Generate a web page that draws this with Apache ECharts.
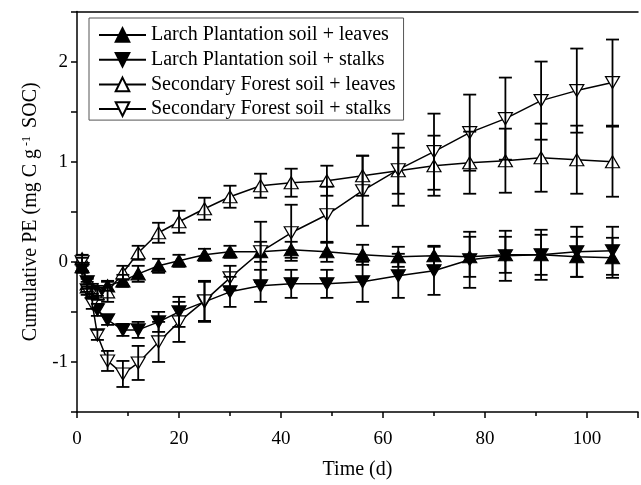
<!DOCTYPE html>
<html>
<head>
<meta charset="utf-8">
<script src="https://cdn.jsdelivr.net/npm/echarts@6/dist/echarts.min.js"></script>
<style>html,body{margin:0;padding:0;background:#fff;}#c{width:641px;height:485px;}</style>
</head>
<body>
<div id="c"></div>
<script>
const days = [1,2,3,4,6,9,12,16,20,25,30,36,42,49,56,63,70,77,84,91,98,105];
const seriesNames = ['Larch Plantation soil + leaves','Larch Plantation soil + stalks','Secondary Forest soil + leaves','Secondary Forest soil + stalks'];
const lpLeaves = [-0.05,-0.22,-0.27,-0.29,-0.24,-0.19,-0.12,-0.04,0.01,0.07,0.1,0.1,0.12,0.1,0.07,0.05,0.06,0.05,0.07,0.07,0.05,0.04];
const lpLeavesErr = [0.04,0.05,0.05,0.05,0.05,0.06,0.08,0.07,0.06,0.06,0.06,0.1,0.08,0.1,0.1,0.1,0.1,0.2,0.18,0.2,0.2,0.2];
const lpStalks = [-0.07,-0.2,-0.3,-0.48,-0.58,-0.68,-0.68,-0.6,-0.5,-0.4,-0.3,-0.24,-0.22,-0.22,-0.2,-0.14,-0.09,0.02,0.06,0.07,0.1,0.11];
const lpStalksErr = [0.04,0.05,0.05,0.06,0.05,0.06,0.08,0.1,0.15,0.2,0.15,0.16,0.14,0.14,0.2,0.22,0.24,0.28,0.25,0.25,0.25,0.24];
const sfLeaves = [0.03,-0.25,-0.3,-0.32,-0.3,-0.11,0.09,0.29,0.4,0.53,0.65,0.76,0.79,0.81,0.86,0.91,0.96,0.99,1.01,1.04,1.02,1.0];
const sfLeavesErr = [0.04,0.05,0.05,0.06,0.1,0.07,0.07,0.1,0.11,0.11,0.11,0.12,0.14,0.15,0.2,0.23,0.3,0.31,0.32,0.34,0.34,0.35];
const sfStalks = [0.0,-0.28,-0.42,-0.73,-0.99,-1.12,-1.01,-0.8,-0.6,-0.39,-0.16,0.1,0.29,0.47,0.71,0.92,1.1,1.29,1.43,1.61,1.71,1.79];
const sfStalksErr = [0.04,0.05,0.05,0.05,0.1,0.13,0.17,0.2,0.2,0.2,0.12,0.3,0.28,0.28,0.35,0.36,0.38,0.38,0.41,0.39,0.42,0.43];
const yTickLabels = ['-1','0','1','2'];
const xTickLabels = ['0','20','40','60','80','100'];

const FONT = '"Liberation Serif","Times New Roman",serif';
const vals = [lpLeaves, lpStalks, sfLeaves, sfStalks];
const errs = [lpLeavesErr, lpStalksErr, sfLeavesErr, sfStalksErr];
const fills = ['#000','#000','#fff','#fff'];
const rot = [0,180,0,180];

const series = [];
for (let k = 0; k < 4; k++) {
  series.push({
    name: seriesNames[k], type: 'line',
    data: days.map((d,i) => [d, vals[k][i]]),
    symbol: 'triangle', symbolSize: [14, 12], symbolRotate: rot[k],
    lineStyle: {color: '#000', width: 1.5},
    itemStyle: {color: fills[k], borderColor: '#000', borderWidth: 1.2},
    z: 3 + k, animation: false
  });
}
for (let k = 0; k < 4; k++) {
  series.push({
    type: 'custom', silent: true, animation: false, z: 10,
    data: days.map((d,i) => [d, vals[k][i] - errs[k][i], vals[k][i] + errs[k][i]]),
    renderItem: function (params, api) {
      const lo = api.coord([api.value(0), api.value(1)]);
      const hi = api.coord([api.value(0), api.value(2)]);
      const w = 6.5;
      const st = {stroke: '#000', lineWidth: 1.8};
      return {type: 'group', children: [
        {type: 'line', shape: {x1: lo[0], y1: lo[1], x2: hi[0], y2: hi[1]}, style: st},
        {type: 'line', shape: {x1: lo[0]-w, y1: lo[1], x2: lo[0]+w, y2: lo[1]}, style: st},
        {type: 'line', shape: {x1: hi[0]-w, y1: hi[1], x2: hi[0]+w, y2: hi[1]}, style: st}
      ]};
    }
  });
}

const chart = echarts.init(document.getElementById('c'), null, {renderer: 'canvas'});
chart.setOption({
  backgroundColor: '#fff',
  animation: false,
  grid: {left: 77, top: 11.5, right: -8, bottom: 66.8},
  legend: {
    data: seriesNames, orient: 'vertical', left: 89, top: 18,
    padding: [7, 8, 1, 9], itemGap: 4.7, itemWidth: 47, itemHeight: 17,
    borderColor: '#555', borderWidth: 1, backgroundColor: '#fff',
    textStyle: {fontFamily: FONT, fontSize: 20, color: '#000', lineHeight: 20},
    selectedMode: false
  },
  xAxis: [{
    type: 'value', min: 0, max: 110, interval: 20, position: 'bottom',
    name: 'Time (d)', nameLocation: 'middle', nameGap: 48,
    nameTextStyle: {fontFamily: FONT, fontSize: 20, color: '#000'},
    axisLine: {onZero: false, lineStyle: {color: '#000', width: 1.5}},
    axisTick: {length: 6, lineStyle: {color: '#000', width: 1.5}},
    minorTick: {show: true, splitNumber: 2, length: 4, lineStyle: {color: '#000', width: 1.5}},
    splitLine: {show: false},
    axisLabel: {fontFamily: FONT, fontSize: 19, color: '#000', margin: 18,
      formatter: v => xTickLabels.indexOf(String(v)) >= 0 ? String(v) : ''}
  }, {
    type: 'value', position: 'top', min: 0, max: 110,
    axisLine: {show: true, onZero: false, lineStyle: {color: '#000', width: 1.5}},
    axisTick: {show: false}, axisLabel: {show: false}, splitLine: {show: false}
  }],
  yAxis: {
    type: 'value', min: -1.5, max: 2.5, interval: 0.5,
    name: 'Cumulative PE (mg C g{sup|-1} SOC)', nameLocation: 'middle', nameGap: 36,
    nameTextStyle: {fontFamily: FONT, fontSize: 20, color: '#000',
      rich: {sup: {fontFamily: FONT, fontSize: 12, color: '#000', verticalAlign: 'top', lineHeight: 12, padding: [0, 3, 0, 3]}}},
    axisLine: {show: true, onZero: false, lineStyle: {color: '#000', width: 1.5}},
    axisTick: {length: 6, lineStyle: {color: '#000', width: 1.5}},
    splitLine: {show: false},
    axisLabel: {fontFamily: FONT, fontSize: 19, color: '#000', margin: 9,
      formatter: v => { const s = String(v); return yTickLabels.indexOf(s) >= 0 ? s : ''; }}
  },
  series: series
});
</script>
</body>
</html>
